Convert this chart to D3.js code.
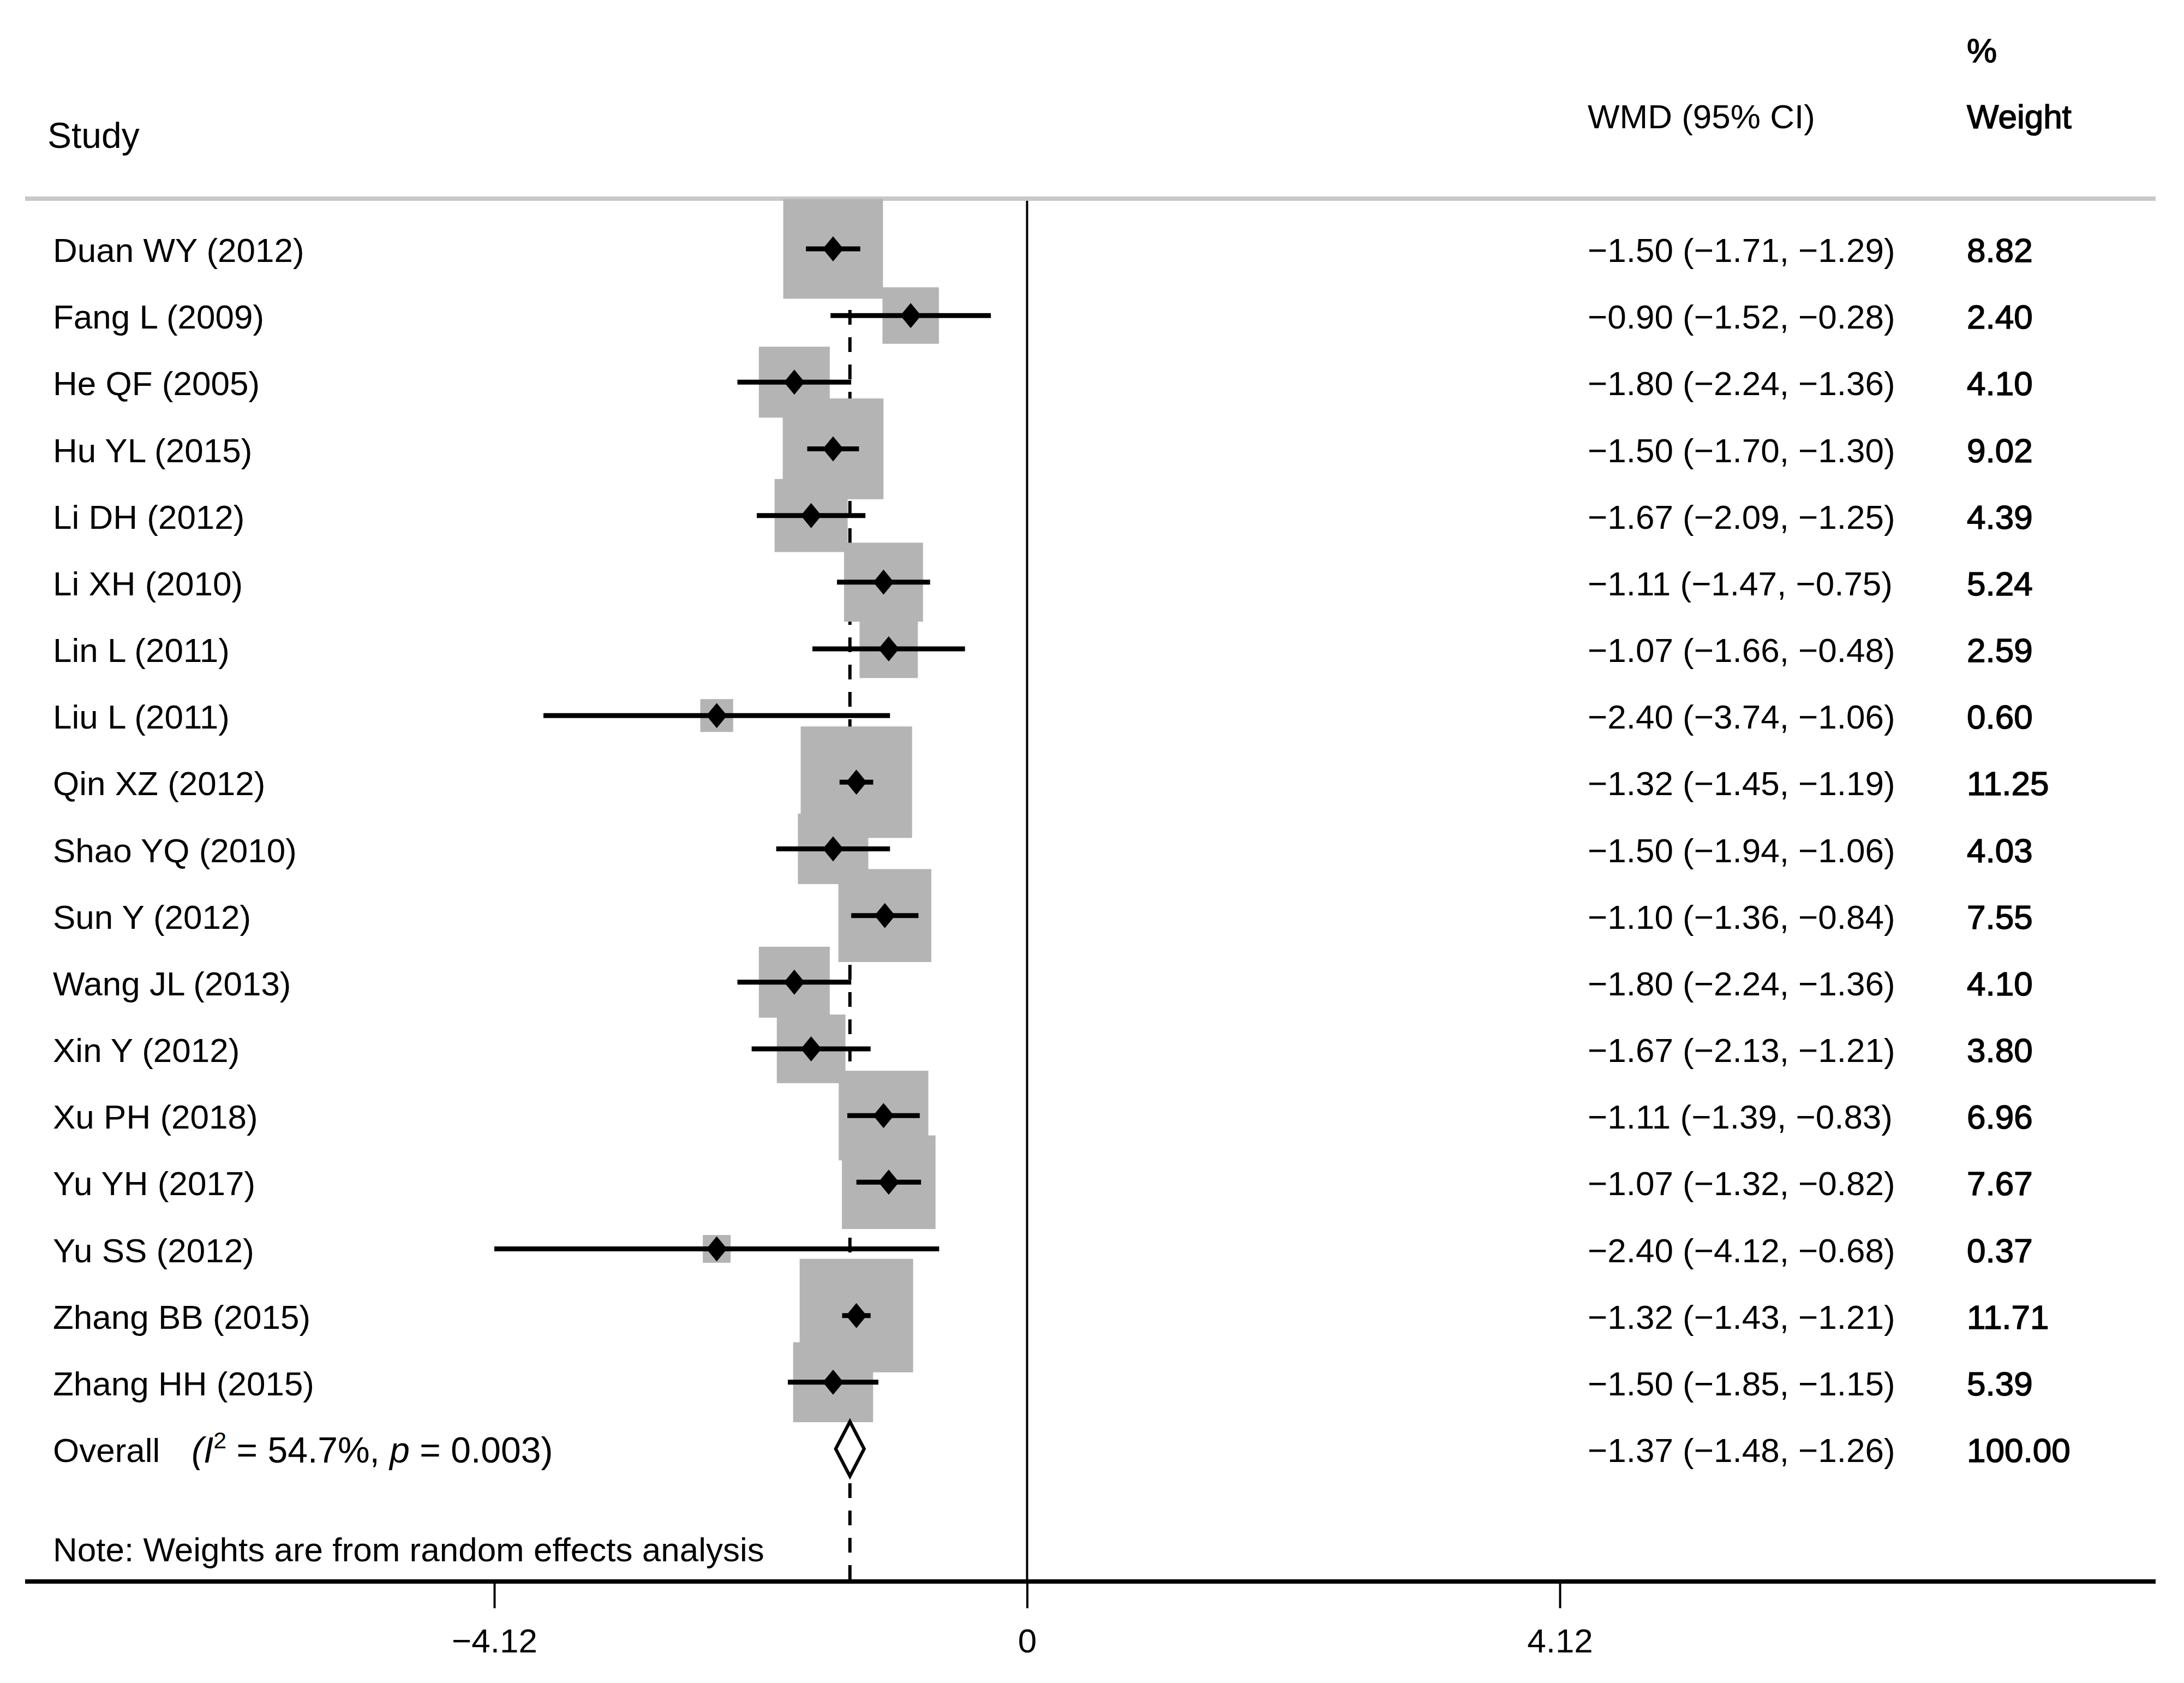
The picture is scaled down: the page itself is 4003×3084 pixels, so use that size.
<!DOCTYPE html>
<html>
<head>
<meta charset="utf-8">
<script src="https://cdn.jsdelivr.net/npm/d3@7"></script>
<style>
  body { margin: 0; background: #fff; }
  text { font-family: "Liberation Sans", Arial, sans-serif; fill: #000; }
</style>
</head>
<body>
<svg id="chart"></svg>
<script>
var studies = ["Duan WY (2012)", "Fang L (2009)", "He QF (2005)", "Hu YL (2015)",
    "Li DH (2012)", "Li XH (2010)", "Lin L (2011)", "Liu L (2011)", "Qin XZ (2012)",
    "Shao YQ (2010)", "Sun Y (2012)", "Wang JL (2013)", "Xin Y (2012)", "Xu PH (2018)",
    "Yu YH (2017)", "Yu SS (2012)", "Zhang BB (2015)", "Zhang HH (2015)"];
var wmd = [-1.50, -0.90, -1.80, -1.50, -1.67, -1.11, -1.07, -2.40, -1.32,
    -1.50, -1.10, -1.80, -1.67, -1.11, -1.07, -2.40, -1.32, -1.50];
var lower = [-1.71, -1.52, -2.24, -1.70, -2.09, -1.47, -1.66, -3.74, -1.45,
    -1.94, -1.36, -2.24, -2.13, -1.39, -1.32, -4.12, -1.43, -1.85];
var upper = [-1.29, -0.28, -1.36, -1.30, -1.25, -0.75, -0.48, -1.06, -1.19,
    -1.06, -0.84, -1.36, -1.21, -0.83, -0.82, -0.68, -1.21, -1.15];
var weights = [8.82, 2.40, 4.10, 9.02, 4.39, 5.24, 2.59, 0.60, 11.25,
    4.03, 7.55, 4.10, 3.80, 6.96, 7.67, 0.37, 11.71, 5.39];
var overallEst = -1.37, overallLo = -1.48, overallHi = -1.26, overallWeight = 100.00;
var tickValues = [-4.12, 0, 4.12];

var W = 4003, H = 3084, fs = 62;
var svg = d3.select("#chart").attr("width", W).attr("height", H);

var x = d3.scaleLinear().domain([-4.12, 4.12]).range([906, 2859]);
var y = d3.scaleLinear().domain([0, studies.length]).range([456, 2655]);
var side = d3.scaleSqrt().domain([0, d3.max(weights)]).range([0, 191]);

var topY = 364, axisY = 2898, leftX = 46, rightX = 3951;
var ciX = 2910, wtX = 3605, labX = 97;

function fmt(d) {
    return (d < 0 ? "\u2212" : "") + Math.abs(d).toFixed(2);
}

// headers
svg.append("text").attr("x", 87).attr("y", 271).style("font-size", "66px").text("Study");
svg.append("text").attr("x", ciX).attr("y", 235).style("font-size", fs + "px").text("WMD (95% CI)");
svg.append("text").attr("x", wtX).attr("y", 114).style("font-size", fs + "px")
    .style("stroke", "#000").style("stroke-width", 1.5).text("%");
svg.append("text").attr("x", wtX).attr("y", 235).style("font-size", fs + "px")
    .style("stroke", "#000").style("stroke-width", 1.5).text("Weight");

// top rule
svg.append("line").attr("x1", leftX).attr("x2", rightX).attr("y1", topY).attr("y2", topY)
    .style("stroke", "#c8c8c8").style("stroke-width", 8);

// overall dashed line and null line
svg.append("line").attr("x1", x(overallEst)).attr("x2", x(overallEst))
    .attr("y1", topY + 4).attr("y2", axisY)
    .style("stroke", "#000").style("stroke-width", 6).style("stroke-dasharray", "27,23");
svg.append("line").attr("x1", x(0)).attr("x2", x(0)).attr("y1", topY + 4).attr("y2", axisY)
    .style("stroke", "#000").style("stroke-width", 4);

var rows = studies.map(function(s, i) {
    return { study: s, est: wmd[i], lo: lower[i], hi: upper[i], w: weights[i], i: i };
});

// weight boxes
svg.append("g").selectAll("rect").data(rows).enter().append("rect")
    .attr("x", function(d) { return x(d.est) - side(d.w) / 2; })
    .attr("y", function(d) { return y(d.i) - side(d.w) / 2; })
    .attr("width", function(d) { return side(d.w); })
    .attr("height", function(d) { return side(d.w); })
    .style("fill", "#b4b4b4").style("stroke", "#b4b4b4").style("stroke-width", 17);

// confidence intervals
svg.append("g").selectAll("line").data(rows).enter().append("line")
    .attr("x1", function(d) { return x(d.lo); })
    .attr("x2", function(d) { return x(d.hi); })
    .attr("y1", function(d) { return y(d.i); })
    .attr("y2", function(d) { return y(d.i); })
    .style("stroke", "#000").style("stroke-width", 9);

// point estimates
svg.append("g").selectAll("path").data(rows).enter().append("path")
    .attr("d", function(d) {
        var cx = x(d.est), cy = y(d.i);
        return "M" + (cx - 19) + "," + cy + "L" + cx + "," + (cy - 23) +
            "L" + (cx + 19) + "," + cy + "L" + cx + "," + (cy + 23) + "Z";
    })
    .style("fill", "#000");

// overall diamond
var yo = y(studies.length);
svg.append("path")
    .attr("d", "M" + x(overallLo) + "," + yo + "L" + x(overallEst) + "," + (yo - 50) +
        "L" + x(overallHi) + "," + yo + "L" + x(overallEst) + "," + (yo + 50) + "Z")
    .style("fill", "#fff").style("stroke", "#000").style("stroke-width", 6);

// row texts
var txt = svg.append("g").style("font-size", fs + "px");
txt.selectAll(".lab").data(rows).enter().append("text")
    .attr("x", labX).attr("y", function(d) { return y(d.i) + 24; })
    .text(function(d) { return d.study; });
txt.selectAll(".ci").data(rows).enter().append("text")
    .attr("x", ciX).attr("y", function(d) { return y(d.i) + 24; })
    .text(function(d) { return fmt(d.est) + " (" + fmt(d.lo) + ", " + fmt(d.hi) + ")"; });
txt.selectAll(".wt").data(rows).enter().append("text")
    .attr("x", wtX).attr("y", function(d) { return y(d.i) + 24; })
    .style("stroke", "#000").style("stroke-width", 1.5)
    .text(function(d) { return d.w.toFixed(2); });

txt.append("text").attr("x", labX).attr("y", yo + 24).text("Overall");
var het = txt.append("text").attr("x", 351).attr("y", yo + 25).style("font-size", "66px");
het.append("tspan").style("font-style", "italic").text("(I");
het.append("tspan").attr("dy", -26).style("font-size", "43px").text("2");
het.append("tspan").attr("dy", 26).text(" = 54.7%, ");
het.append("tspan").style("font-style", "italic").text("p");
het.append("tspan").text(" = 0.003)");
txt.append("text").attr("x", ciX).attr("y", yo + 24)
    .text(fmt(overallEst) + " (" + fmt(overallLo) + ", " + fmt(overallHi) + ")");
txt.append("text").attr("x", wtX).attr("y", yo + 24)
    .style("stroke", "#000").style("stroke-width", 1.5)
    .text(overallWeight.toFixed(2));

txt.append("text").attr("x", labX).attr("y", 2861).text("Note: Weights are from random effects analysis");

// axis
svg.append("line").attr("x1", leftX).attr("x2", rightX).attr("y1", axisY).attr("y2", axisY)
    .style("stroke", "#000").style("stroke-width", 8);
var axis = svg.append("g").attr("transform", "translate(0," + axisY + ")")
    .call(d3.axisBottom(x).tickValues(tickValues).tickSize(49).tickPadding(37)
        .tickFormat(function(d) { return d === 0 ? "0" : fmt(d); }));
axis.select(".domain").remove();
axis.selectAll(".tick line").style("stroke", "#000").style("stroke-width", 4);
axis.selectAll(".tick text").style("font-size", fs + "px")
    .style("font-family", "'Liberation Sans', Arial, sans-serif").style("fill", "#000");
</script>
</body>
</html>
